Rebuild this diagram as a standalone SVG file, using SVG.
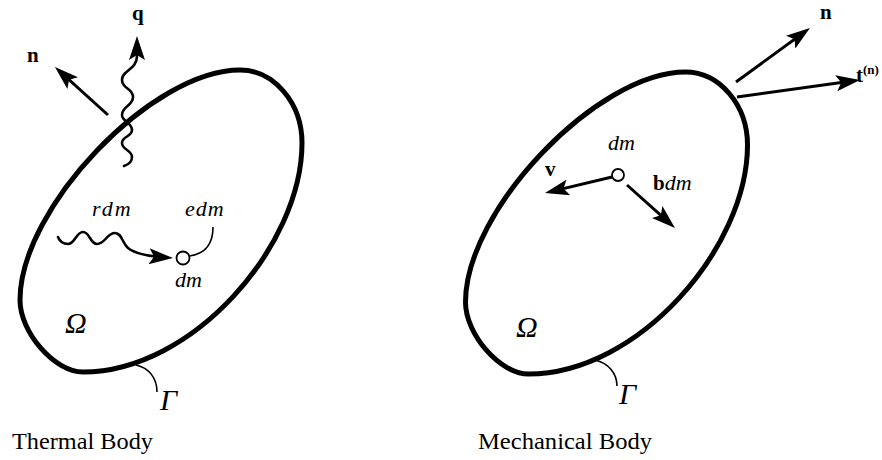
<svg xmlns="http://www.w3.org/2000/svg" width="882" height="460" viewBox="0 0 882 460">
<defs>
<marker id="ah" viewBox="0 0 24 16" refX="16" refY="8" markerWidth="24" markerHeight="16" orient="auto" markerUnits="userSpaceOnUse">
<path d="M0,0 L24,8 L0,16 L5,8 z" fill="#000"/>
</marker>
<path id="outline" d="M240,70 C274,70 302,103 302,143 C302,246 192.5,372 83,372 C54.6,372 20,332.4 20,300 C20,208 152,70 240,70 Z"/>
<style>
.body{fill:none;stroke:#000;stroke-width:5}
.arr{fill:none;stroke:#000;stroke-width:3;marker-end:url(#ah)}
.wave{fill:none;stroke:#000;stroke-width:2.6;stroke-linecap:round}
.thin{fill:none;stroke:#000;stroke-width:1.6}
.dot{fill:#fff;stroke:#000;stroke-width:1.8}
.b{font-weight:bold;font-size:21px}
.i{font-style:italic;font-size:22px}
.g{font-style:italic;font-size:30px}
.cap{font-size:23px}
</style>
</defs>
<g font-family="'Liberation Serif', 'DejaVu Serif', serif" fill="#000">
<g id="thermal-body">
<use href="#outline" class="body"/>
<text class="g" x="65" y="333">Ω</text>
<path class="thin" d="M136,365 C149,368 157,378 157,392"/>
<text class="g" x="160" y="410">Γ</text>
<text class="cap" x="12" y="449" textLength="141" lengthAdjust="spacingAndGlyphs">Thermal Body</text>
</g>

<g id="thermal-dm">
<circle class="dot" cx="183" cy="258" r="6.5"/>
<text class="i" x="175" y="287">dm</text>
<path class="thin" d="M189.5,256 C204,254 213,245 213,227"/>
<text class="i" x="185" y="216" letter-spacing="1">edm</text>
<text class="i" x="92" y="216" letter-spacing="2">rdm</text>
</g>

<g id="thermal-labels">
<text class="b" x="27" y="62">n</text>
<text class="b" x="132" y="20">q</text>
</g>

<g id="mechanical-body">
<use href="#outline" class="body" transform="translate(445.5 2)"/>
<text class="g" x="516" y="337">Ω</text>
<path class="thin" d="M595,360 C608,363 617,373 617,386"/>
<text class="g" x="619" y="404">Γ</text>
<text class="cap" x="478" y="449" textLength="174" lengthAdjust="spacingAndGlyphs">Mechanical Body</text>
</g>

<g id="mechanical-dm">
<circle class="dot" cx="618" cy="175" r="6"/>
<text class="i" x="608" y="150">dm</text>
<text class="b" x="545" y="176">v</text>
<text x="653" y="190"><tspan class="b">b</tspan><tspan class="i">dm</tspan></text>
</g>

<g id="mechanical-labels">
<text class="b" x="820" y="19">n</text>
<text class="b" x="856" y="82">t<tspan font-size="13" dy="-8">(n)</tspan></text>
</g>

<g id="connectors">
<line class="arr" x1="108" y1="115" x2="60.9" y2="72.4"/>
<path class="arr wave" d="M124,166 C130,164 132,160 132,157 C132,150 122,150 122,143 C122,136 132,137 132,130 C132,122 122,122 122,115 C122,106 133,106 133,97 C133,88 122,89 122,80 C122,70 137,70 137,56 L137,44"/>
<path class="arr wave" d="M58,237 C60,242 63,244 68,244 C75,244 76,232 83,232 C90,232 90,244 97,244 C105,244 107,233 115,233 C122,233 122,243 128,248 C134,253 145,256 165,257.5"/>
<line class="arr" x1="736" y1="82" x2="803.5" y2="32.7"/>
<line class="arr" x1="737" y1="97" x2="852.1" y2="81.1"/>
<line class="arr" x1="612" y1="177" x2="552.8" y2="191.1"/>
<line class="arr" x1="627" y1="185" x2="669" y2="222.7"/>
</g>
</g>
</svg>
